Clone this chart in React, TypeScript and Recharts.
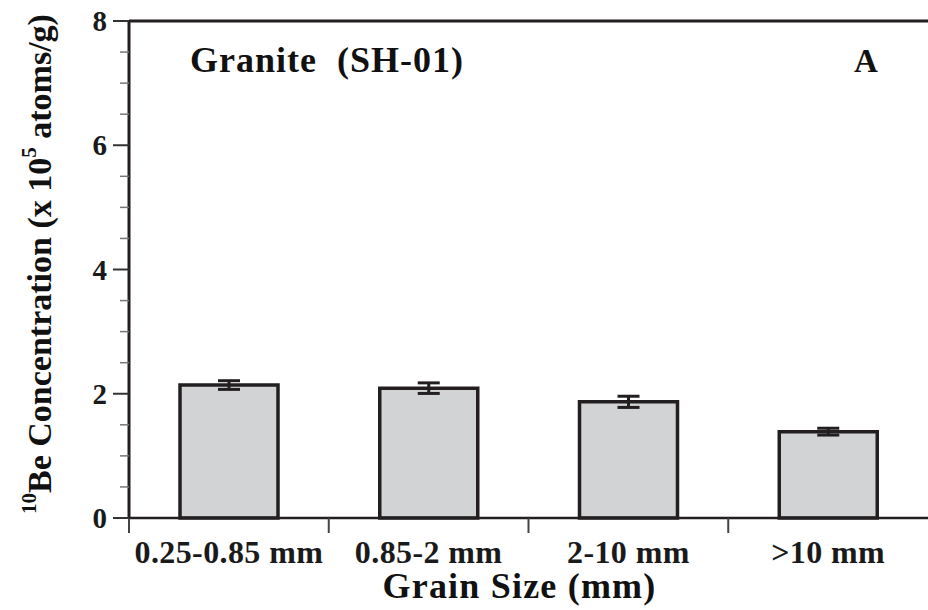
import { BarChart, Bar, XAxis, YAxis, ErrorBar, ReferenceLine } from "recharts";

const grainSizes = ["0.25-0.85 mm", "0.85-2 mm", "2-10 mm", ">10 mm"];
const be10Values = [2.14, 2.09, 1.87, 1.39];
const be10Errors = [0.07, 0.085, 0.09, 0.055];
const yTicks = [0, 0.5, 1, 1.5, 2, 2.5, 3, 3.5, 4, 4.5, 5, 5.5, 6, 6.5, 7, 7.5, 8];
const yMajorTicks = [0, 2, 4, 6, 8];

const data = grainSizes.map((size, i) => ({
  size,
  value: be10Values[i],
  err: be10Errors[i],
}));

const FONT = '"Liberation Serif", "Times New Roman", serif';
const INK = "#231f20";

function YTick({ x, y, payload }: any) {
  const major = yMajorTicks.includes(payload.value);
  return (
    <g>
      <line
        x1={x - (major ? 16 : 9)}
        x2={x}
        y1={y}
        y2={y}
        stroke={major ? "#333" : "#777"}
        strokeWidth={major ? 2 : 1.5}
      />
      {major && (
        <text
          x={x - 22}
          y={y}
          dy="0.35em"
          textAnchor="end"
          fontFamily={FONT}
          fontWeight="bold"
          fontSize={29}
          fill="#1a1a1a"
        >
          {payload.value}
        </text>
      )}
    </g>
  );
}

function XTick({ x, y, payload }: any) {
  const half = payload.offset ?? 0;
  return (
    <g>
      <line x1={x - half} x2={x - half} y1={y} y2={y + 15} stroke="#444" strokeWidth={2} />
      <text
        x={x}
        y={y + 45}
        textAnchor="middle"
        fontFamily={FONT}
        fontWeight="bold"
        fontSize={32}
        letterSpacing={0.4}
        fill="#1a1a1a"
      >
        {payload.value}
      </text>
    </g>
  );
}

function XTitle({ viewBox }: any) {
  return (
    <text
      x={viewBox.x + viewBox.width / 2 - 9}
      y={viewBox.y + 80}
      textAnchor="middle"
      fontFamily={FONT}
      fontWeight="bold"
      fontSize={36}
      letterSpacing={1.2}
      fill="#111"
    >
      Grain Size (mm)
    </text>
  );
}

function YTitle({ viewBox }: any) {
  const cx = viewBox.x + 51;
  const cy = viewBox.y + 243;
  return (
    <text
      transform={`rotate(-90, ${cx}, ${cy})`}
      x={cx}
      y={cy}
      textAnchor="middle"
      fontFamily={FONT}
      fontWeight="bold"
      fontSize={34}
      fill="#111"
    >
      <tspan fontSize={21} dy={-15}>10</tspan>
      <tspan dy={15}>Be Concentration (x 10</tspan>
      <tspan fontSize={21} dy={-15}>5</tspan>
      <tspan dy={15}>{" atoms/g)"}</tspan>
    </text>
  );
}

export default function App() {
  return (
    <div style={{ position: "absolute", left: 0, top: 0, background: "#fff" }}>
      <BarChart
        width={928}
        height={610}
        data={data}
        margin={{ top: 21, right: 0, bottom: 0, left: 0 }}
        barCategoryGap="25%"
      >
        <XAxis
          dataKey="size"
          height={92}
          interval={0}
          tickLine={false}
          tickSize={0}
          tickMargin={0}
          tick={<XTick />}
          axisLine={{ stroke: INK, strokeWidth: 2.5 }}
          label={{ content: <XTitle /> }}
        />
        <YAxis
          width={129}
          domain={[0, 8]}
          ticks={yTicks}
          interval={0}
          tickLine={false}
          tickSize={0}
          tickMargin={0}
          tick={<YTick />}
          axisLine={{ stroke: INK, strokeWidth: 3 }}
          label={{ content: <YTitle /> }}
        />
        <ReferenceLine y={8} stroke={INK} strokeWidth={3} />
        <Bar
          dataKey="value"
          fill="#d1d3d4"
          stroke={INK}
          strokeWidth={3.5}
          barSize={98}
          isAnimationActive={false}
        >
          <ErrorBar dataKey="err" width={11} stroke={INK} strokeWidth={3} direction="y" />
        </Bar>
        <text x={190} y={72} fontFamily={FONT} fontWeight="bold" fontSize={36} letterSpacing={1} fill="#111">
          {"Granite\u00a0 (SH-01)"}
        </text>
        <text x={866} y={72} textAnchor="middle" fontFamily={FONT} fontWeight="bold" fontSize={33} fill="#111">
          A
        </text>
      </BarChart>
    </div>
  );
}
